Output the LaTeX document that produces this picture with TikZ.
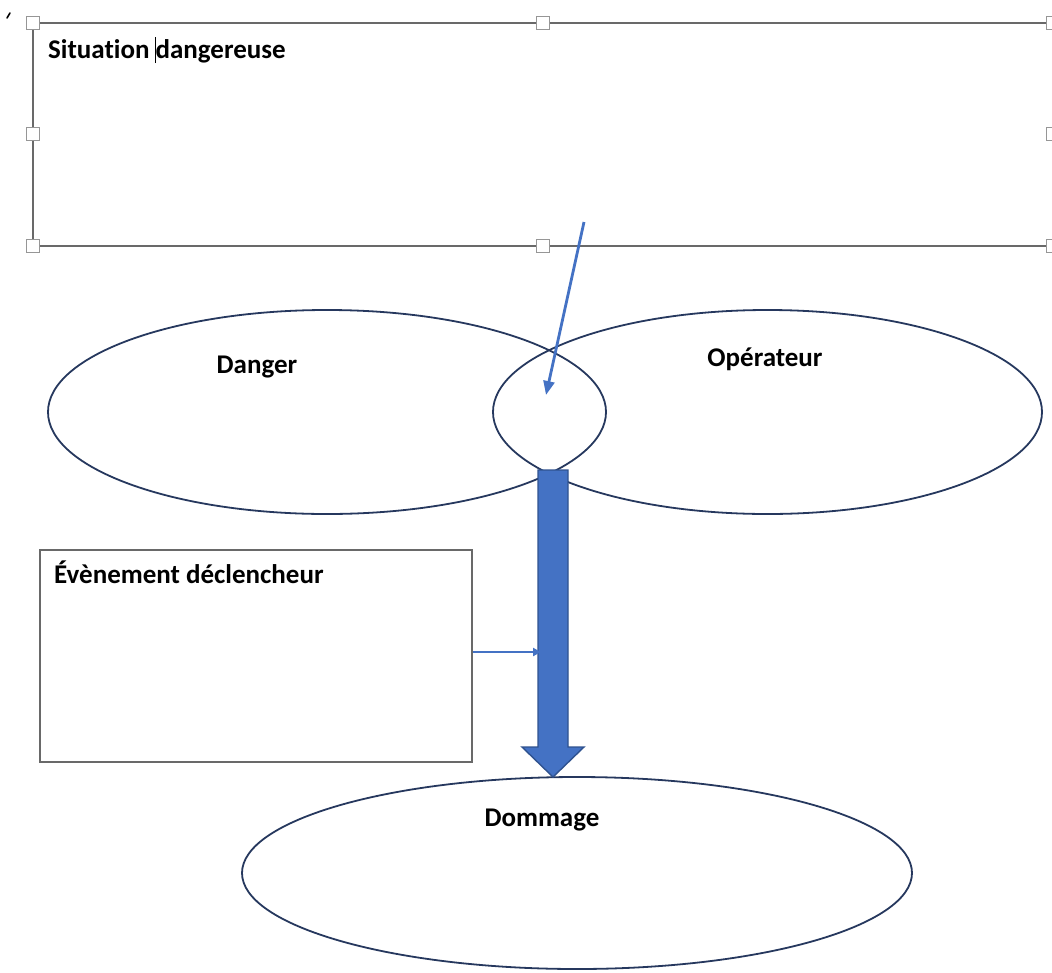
\documentclass[tikz,border=0pt]{standalone}
\usepackage{fontspec}
\setmainfont{Carlito}[Ligatures=NoCommon]
\usetikzlibrary{shapes.geometric,arrows.meta}
\definecolor{navy}{RGB}{38,56,94}
\definecolor{blu}{RGB}{68,114,196}
\definecolor{bludark}{RGB}{47,82,143}
\definecolor{frame}{RGB}{105,105,105}
\definecolor{hdl}{RGB}{150,150,150}
\tikzset{
  oval/.style={ellipse, draw=navy, line width=1.8pt, inner sep=0pt},
  lbl/.style={font=\fontsize{27}{30}\selectfont\bfseries, inner sep=0pt, anchor=base},
  handle/.style={draw=hdl, fill=white, line width=1pt, minimum size=12.5pt, inner sep=0pt, rectangle},
  thinarrow/.style={draw=blu, line width=2.8pt, -{Triangle[length=14pt,width=11pt]}},
  smallarrow/.style={draw=blu, line width=2.6pt, -{Triangle[length=8pt,width=8pt]}},
}
\begin{document}
\begin{tikzpicture}[x=1pt,y=-1pt]
\useasboundingbox (0,0) rectangle (1052,972);
% top text box (selected)
\draw[frame, line width=1.5pt] (33,23) rectangle (1053,246);
\node[lbl, anchor=base west] (sit) at (48,58) {Situation \makebox[0pt][l]{\hspace{-0.5pt}\rule[-5pt]{1pt}{26pt}}dangereuse};
\draw[black, line width=1.6pt, line cap=round] (7,18) -- (10,13);
\foreach \n/\x/\y in {h1/33/23, h2/543/23, h3/1053/23, h4/33/134, h5/1053/134, h6/33/246, h7/543/246, h8/1053/246}
  \node[handle] (\n) at (\x,\y) {};
% ellipses
\node[oval, minimum width=558pt, minimum height=204pt] (danger) at (327,412) {};
\node[oval, minimum width=549pt, minimum height=204pt] (oper) at (767.5,412) {};
\node[oval, minimum width=670pt, minimum height=192pt] (dommage) at (577,873) {};
\node[lbl] (tdanger) at (257,373) {Danger};
\node[lbl] (toper) at (765,366) {Opérateur};
\node[lbl] (tdom) at (542,826) {Dommage};
% event box
\node[draw=frame, line width=1.3pt, minimum width=432pt, minimum height=212pt, inner sep=0pt] (event) at (256,656) {};
\node[lbl, anchor=base west] (tevent) at (54,583) {Évènement déclencheur};
% block arrow
\coordinate (btop) at (553,470);
\coordinate (btip) at (553,777);
\filldraw[fill=blu, draw=bludark, line width=1.4pt, line join=miter]
  ([xshift=-15pt]btop) -- ([xshift=15pt]btop) -- (568,747) -- (584,747)
  -- (btip) -- (522,747) -- (538,747) -- cycle;
% thin arrows
\coordinate (astart) at (584,222);
\coordinate (aend) at (546,395);
\draw[thinarrow] (astart) -- (aend);
\coordinate (estart) at (event.east |- 0,652);
\coordinate (eend) at (541,652);
\draw[smallarrow] (estart) -- (eend);
\end{tikzpicture}
\end{document}
